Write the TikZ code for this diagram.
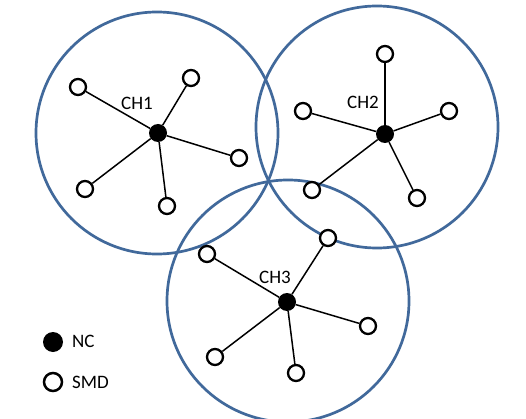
\documentclass[tikz,border=0pt]{standalone}
\usepackage{fontspec}
\setmainfont{Carlito}
\definecolor{ringblue}{RGB}{65,105,155}
\begin{document}
\begin{tikzpicture}[x=1pt,y=-1pt,
  ring/.style={draw=ringblue,line width=2.7pt},
  nc/.style={circle,fill=black,draw=none,minimum size=18pt,inner sep=0pt},
  smd/.style={circle,fill=white,draw=black,line width=2.3pt,minimum size=16pt,inner sep=0pt},
  link/.style={draw=black,line width=1.5pt},
  lab/.style={font=\fontsize{19}{20}\selectfont,text=black,inner sep=0pt}]
\useasboundingbox (0,0) rectangle (526,419);
\fill[white] (0,0) rectangle (526,419);
% rings
\draw[ring] (157,133) circle[radius=121];
\draw[ring] (377,127) circle[radius=121];
\draw[ring] (288,301) circle[radius=121];
% cluster heads
\node[nc] (ch1) at (158,133) {};
\node[nc] (ch2) at (385,134) {};
\node[nc] (ch3) at (287,302) {};
% SMDs cluster 1
\node[smd] (a1) at (78,87) {};
\node[smd] (a2) at (191,78) {};
\node[smd] (a3) at (239,158) {};
\node[smd] (a4) at (85,189) {};
\node[smd] (a5) at (167,206) {};
% SMDs cluster 2
\node[smd] (b1) at (385,54) {};
\node[smd] (b2) at (303,111) {};
\node[smd] (b3) at (449,111) {};
\node[smd] (b4) at (312,190) {};
\node[smd] (b5) at (417,198) {};
% SMDs cluster 3
\node[smd] (c1) at (207,254) {};
\node[smd] (c2) at (328,238) {};
\node[smd] (c3) at (368,326) {};
\node[smd] (c4) at (215,357) {};
\node[smd] (c5) at (296,373) {};
% links
\foreach \s in {a1,a2,a3,a4,a5} \draw[link] (ch1) -- (\s);
\foreach \s in {b1,b2,b3,b4,b5} \draw[link] (ch2) -- (\s);
\foreach \s in {c1,c2,c3,c4,c5} \draw[link] (ch3) -- (\s);
% labels
\node[lab] (l1) at (137,103) {CH1};
\node[lab] (l2) at (363,102) {CH2};
\node[lab] (l3) at (275,277) {CH3};
% legend
\node[nc,minimum size=20pt] (lnc) at (53,342) {};
\node[smd,minimum size=18pt,line width=2.5pt] (lsmd) at (53,382) {};
\node[lab,anchor=west] (tnc) at (72,341) {NC};
\node[lab,anchor=west] (tsmd) at (72,382) {SMD};
\end{tikzpicture}
\end{document}
